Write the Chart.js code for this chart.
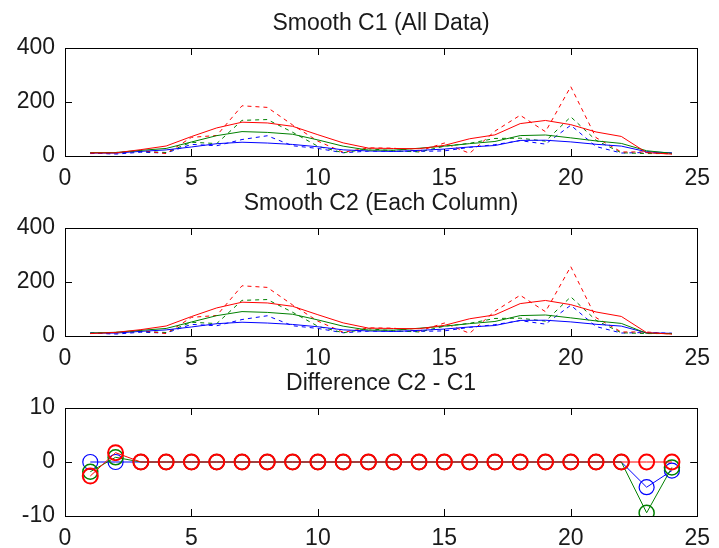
<!DOCTYPE html>
<html>
<head>
<meta charset="utf-8">
<script src="https://cdn.jsdelivr.net/npm/chart.js@4.4.1/dist/chart.umd.min.js"></script>
<style>
  html, body { margin: 0; padding: 0; background: #fff; }
  #wrap { position: relative; width: 719px; height: 548px; overflow: hidden; }
  canvas { position: absolute; left: 0; }
</style>
</head>
<body>
<div id="wrap">
  <canvas id="c1" width="719" height="190" style="top:0px"></canvas>
  <canvas id="c2" width="719" height="190" style="top:180px"></canvas>
  <canvas id="c3" width="719" height="188" style="top:360px"></canvas>
</div>
<script>
// hours of the day (x axis)
const hours = [1,2,3,4,5,6,7,8,9,10,11,12,13,14,15,16,17,18,19,20,21,22,23,24];

// raw counts, one array per column (drawn dotted)
const rawBlue  = [11,7,14,11,43,38,61,75,38,28,12,18,18,17,19,32,42,57,44,114,35,11,13,10];
const rawGreen = [11,13,17,13,51,46,132,135,88,36,12,27,19,15,36,47,65,66,55,145,58,12,9,9];
const rawRed   = [9,11,20,9,69,76,186,180,115,55,14,30,29,18,48,10,92,151,90,257,68,15,15,7];

// smoothed over all data at once (C1)
const c1Blue  = [11,10.67,17.2,22.6,33.4,45.6,51,48,42.8,34.2,22.8,18.6,16.8,20.8,25.6,33.4,38.8,57.8,58.4,52.2,43.4,36.6,16,11.6];
const c1Green = [12.8,12.8,21,28,51.8,75.4,90.4,87.4,80.6,59.6,36.4,21.8,21.8,28.8,36.4,45.8,53.8,75.6,77.8,67.2,55.8,46.6,19.4,10];
const c1Red   = [11.6,11.6,23.6,37,72,104,125.2,122.4,110,78.8,48.6,29.2,27.8,27,39.4,63.8,78.2,120,131.6,116.2,89,72.4,12.33,7];

// smoothed column by column (C2)
const c2Blue  = [11,10.67,17.2,22.6,33.4,45.6,51,48,42.8,34.2,22.8,18.6,16.8,20.8,25.6,33.4,38.8,57.8,58.4,52.2,43.4,36.6,11.33,10];
const c2Green = [11,13.67,21,28,51.8,75.4,90.4,87.4,80.6,59.6,36.4,21.8,21.8,28.8,36.4,45.8,53.8,75.6,77.8,67.2,55.8,46.6,10,9];
const c2Red   = [9,13.33,23.6,37,72,104,125.2,122.4,110,78.8,48.6,29.2,27.8,27,39.4,63.8,78.2,120,131.6,116.2,89,72.4,12.33,7];

// difference C2 - C1
const diffBlue  = [0,0,0,0,0,0,0,0,0,0,0,0,0,0,0,0,0,0,0,0,0,0,-4.67,-1.6];
const diffGreen = [-1.8,0.87,0,0,0,0,0,0,0,0,0,0,0,0,0,0,0,0,0,0,0,0,-9.4,-1];
const diffRed   = [-2.6,1.73,0,0,0,0,0,0,0,0,0,0,0,0,0,0,0,0,0,0,0,0,0,0];

const titles = ['Smooth C1 (All Data)', 'Smooth C2 (Each Column)', 'Difference C2 - C1'];
const xTicks = [0, 5, 10, 15, 20, 25];

const BLUE = '#0000ff', GREEN = '#008000', RED = '#ff0000';
const FONT = 'Liberation Sans, Arial, Helvetica, sans-serif';

function pts(ys) {
  return ys.map((y, i) => ({x: hours[i], y: y}));
}

// matlab-style box with inward ticks on all four sides
const boxPlugin = {
  id: 'box',
  afterDraw(chart) {
    const ctx = chart.ctx;
    const a = chart.chartArea;
    const xs = chart.scales.x, ys = chart.scales.y;
    const len = 7;
    ctx.save();
    ctx.strokeStyle = '#000';
    ctx.lineWidth = 1;
    ctx.strokeRect(Math.round(a.left) + 0.5, Math.round(a.top) + 0.5,
                   Math.round(a.right - a.left), Math.round(a.bottom - a.top));
    ctx.beginPath();
    xs.ticks.forEach(t => {
      const px = Math.round(xs.getPixelForValue(t.value)) + 0.5;
      ctx.moveTo(px, a.bottom); ctx.lineTo(px, a.bottom - len);
      ctx.moveTo(px, a.top); ctx.lineTo(px, a.top + len);
    });
    ys.ticks.forEach(t => {
      const py = Math.round(ys.getPixelForValue(t.value)) + 0.5;
      ctx.moveTo(a.left, py); ctx.lineTo(a.left + len, py);
      ctx.moveTo(a.right, py); ctx.lineTo(a.right - len, py);
    });
    ctx.stroke();
    ctx.restore();
  }
};

function makeOptions(title, ymin, ymax, ystep, canvasH) {
  return {
    responsive: false,
    animation: false,
    devicePixelRatio: 1,
    layout: { padding: { left: 0, right: 15, top: 0, bottom: 0 } },
    plugins: {
      legend: { display: false },
      tooltip: { enabled: false },
      title: {
        display: true,
        text: title,
        fullSize: false,
        color: '#1a1a1a',
        font: { family: FONT, size: 23, weight: 'normal', lineHeight: 1.2 },
        padding: { top: 10, bottom: 10.4 }
      }
    },
    scales: {
      x: {
        type: 'linear',
        min: 0, max: 25,
        afterBuildTicks: s => { s.ticks = xTicks.map(v => ({value: v})); },
        afterFit: s => { s.height = canvasH - 156; },
        grid: { display: false, drawTicks: false },
        border: { display: false },
        ticks: { color: '#1a1a1a', padding: 9, maxRotation: 0,
                 font: { family: FONT, size: 23 } }
      },
      y: {
        min: ymin, max: ymax,
        afterFit: s => { s.width = 65; },
        grid: { display: false, drawTicks: false },
        border: { display: false },
        ticks: { stepSize: ystep, color: '#1a1a1a', padding: 10,
                 font: { family: FONT, size: 23 } }
      }
    }
  };
}

function smoothSets(bl, gr, rd) {
  const solid = (d, c, o) => ({ data: pts(d), borderColor: c, borderWidth: 1, pointRadius: 0, fill: false, order: o });
  const dotted = (d, c, o) => ({ data: pts(d), borderColor: c, borderWidth: 1, borderDash: [4, 4], pointRadius: 0, fill: false, order: o });
  return [
    dotted(rawBlue, BLUE, 5), dotted(rawGreen, GREEN, 4), dotted(rawRed, RED, 3),
    solid(bl, BLUE, 2), solid(gr, GREEN, 1), solid(rd, RED, 0)
  ];
}

new Chart(document.getElementById('c1'), {
  type: 'line',
  data: { datasets: smoothSets(c1Blue, c1Green, c1Red) },
  options: makeOptions(titles[0], 0, 400, 200, 190),
  plugins: [boxPlugin]
});

new Chart(document.getElementById('c2'), {
  type: 'line',
  data: { datasets: smoothSets(c2Blue, c2Green, c2Red) },
  options: makeOptions(titles[1], 0, 400, 200, 190),
  plugins: [boxPlugin]
});

// later series sit on top, so their rings are a touch wider to hide the ones below
const circ = (d, c, o, w) => ({
  data: pts(d), borderColor: c, borderWidth: 1, fill: false, order: o,
  pointRadius: 7.5, pointStyle: 'circle', pointBorderColor: c,
  pointBackgroundColor: 'rgba(0,0,0,0)', pointBorderWidth: w
});

new Chart(document.getElementById('c3'), {
  type: 'line',
  data: { datasets: [circ(diffBlue, BLUE, 2, 1.2), circ(diffGreen, GREEN, 1, 1.5), circ(diffRed, RED, 0, 2)] },
  options: makeOptions(titles[2], -10, 10, 10, 188),
  plugins: [boxPlugin]
});
</script>
</body>
</html>
